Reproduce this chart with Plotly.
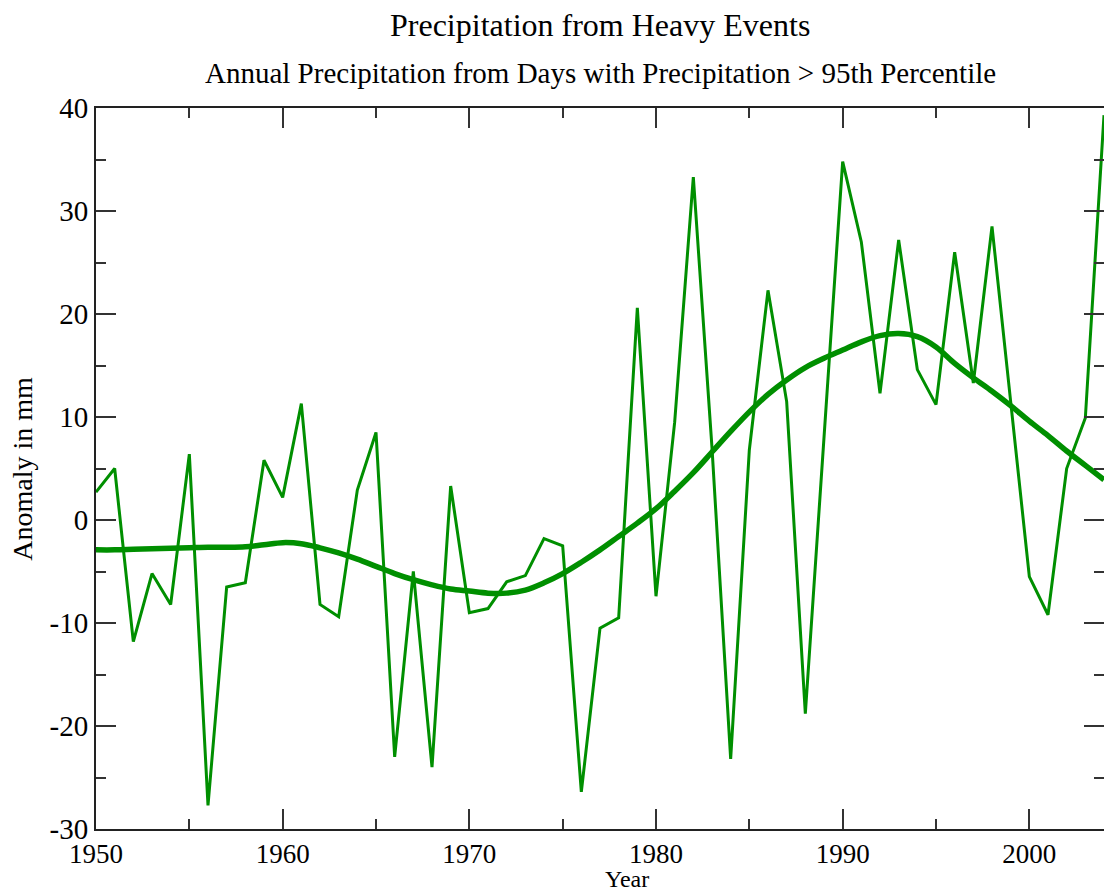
import plotly.graph_objects as go

years = list(range(1950, 2005))
anomaly = [
    2.7, 5.0, -11.8, -5.2, -8.2, 6.4, -27.7, -6.5, -6.1, 5.8,
    2.2, 11.3, -8.2, -9.4, 2.9, 8.5, -23.0, -5.0, -24.0, 3.3,
    -9.0, -8.6, -6.0, -5.4, -1.8, -2.5, -26.4, -10.5, -9.5, 20.6,
    -7.4, 9.5, 33.3, 7.0, -23.2, 6.8, 22.3, 11.5, -18.8, 8.0,
    34.8, 27.0, 12.3, 27.2, 14.6, 11.2, 26.0, 13.3, 28.5, 11.5,
    -5.5, -9.2, 5.0, 9.9, 39.3,
]
smoothed = [
    -2.9, -2.9, -2.85, -2.8, -2.75, -2.7, -2.65, -2.65, -2.6, -2.4,
    -2.2, -2.3, -2.7, -3.2, -3.8, -4.5, -5.2, -5.8, -6.3, -6.7,
    -6.9, -7.1, -7.1, -6.8, -6.1, -5.2, -4.1, -2.9, -1.6, -0.3,
    1.1, 2.8, 4.6, 6.6, 8.6, 10.5, 12.2, 13.6, 14.8, 15.7,
    16.5, 17.3, 17.9, 18.1, 17.8, 16.8, 15.2, 13.8, 12.5, 11.1,
    9.6, 8.2, 6.7, 5.3, 3.9,
]
x_ticks = [1950, 1960, 1970, 1980, 1990, 2000]
x_ticktext = ["1950", "1960", "1970", "1980", "1990", "2000"]
y_ticks = [-30, -20, -10, 0, 10, 20, 30, 40]
y_ticktext = ["-30", "-20", "-10", "0", "10", "20", "30", "40"]

title = "Precipitation from Heavy Events"
subtitle = "Annual Precipitation from Days with Precipitation > 95th Percentile"
x_title = "Year"
y_title = "Anomaly in mm"

GREEN = "#008f00"
FONT = "Liberation Serif"

# the page body adds an 8px offset; figure is sized to fit in the 1112x896 window
FIG_W, FIG_H = 1104, 888
PLOT_T, PLOT_B = 108, 829   # page pixels
PLOT_L, PLOT_R = 96, 1106
PH = PLOT_B - PLOT_T
PW = PLOT_R - PLOT_L


def py(pix):
    return (PLOT_B - pix) / PH


def px(pix):
    return (pix - PLOT_L) / PW


fig = go.Figure()
fig.add_trace(go.Scatter(x=years, y=anomaly, mode="lines",
                         line=dict(color=GREEN, width=3), hoverinfo="skip"))
fig.add_trace(go.Scatter(x=years, y=smoothed, mode="lines",
                         line=dict(color=GREEN, width=5.5, shape="spline"), hoverinfo="skip"))

axis_common = dict(
    showgrid=False, zeroline=False, showline=True, linecolor="#222", linewidth=2,
    ticks="inside", ticklen=20, tickwidth=1.5, tickcolor="#333", mirror="allticks",
)

fig.update_layout(
    width=FIG_W, height=FIG_H,
    margin=dict(l=PLOT_L - 8, r=FIG_W - (PLOT_R - 8), t=PLOT_T - 8, b=FIG_H - (PLOT_B - 8)),
    paper_bgcolor="white", plot_bgcolor="white",
    showlegend=False,
    font=dict(family=FONT, color="black"),
    xaxis=dict(range=[1950, 2004], tickvals=x_ticks, ticktext=x_ticktext,
               tickfont=dict(family=FONT, size=27, color="black"),
               minor=dict(ticks="inside", ticklen=10, tickwidth=1.5, tickcolor="#333", dtick=5, tick0=1950),
               ticklabelstandoff=0, **axis_common),
    yaxis=dict(range=[-30, 40], tickvals=y_ticks, ticktext=y_ticktext,
               tickfont=dict(family=FONT, size=29, color="black"),
               minor=dict(ticks="inside", ticklen=10, tickwidth=1.5, tickcolor="#333", dtick=5, tick0=-30),
               **axis_common),
    annotations=[
        dict(text=title, x=0.5, y=py(25), xref="paper", yref="paper",
             xanchor="center", yanchor="middle", showarrow=False,
             font=dict(family=FONT, size=32, color="black")),
        dict(text=subtitle, x=0.5, y=py(73), xref="paper", yref="paper",
             xanchor="center", yanchor="middle", showarrow=False,
             font=dict(family=FONT, size=29, color="black")),
        dict(text=x_title, x=px(628), y=py(879), xref="paper", yref="paper",
             xanchor="center", yanchor="middle", showarrow=False,
             font=dict(family=FONT, size=24, color="black")),
        dict(text=y_title, x=px(22), y=0.5, xref="paper", yref="paper",
             xanchor="center", yanchor="middle", showarrow=False, textangle=-90,
             font=dict(family=FONT, size=28, color="black")),
    ],
)

fig.write_html("out.html")
